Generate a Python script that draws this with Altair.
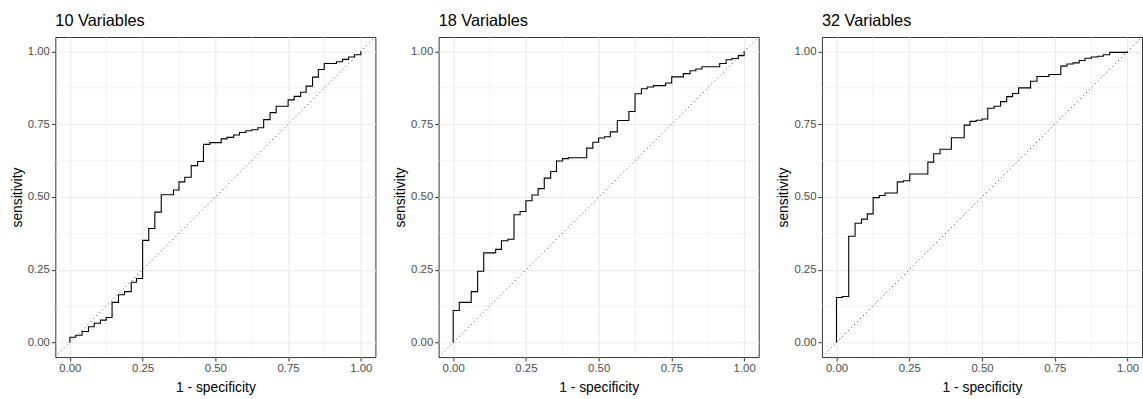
import altair as alt
import pandas as pd

panel_titles = ["10 Variables", "18 Variables", "32 Variables"]

fpr_10 = [0, 0, 0.020, 0.042, 0.064, 0.084, 0.105, 0.125, 0.145, 0.167, 0.188, 0.211,
          0.229, 0.25, 0.271, 0.292, 0.314, 0.356, 0.375, 0.395, 0.417, 0.439, 0.459,
          0.481, 0.52, 0.54, 0.563, 0.583, 0.605, 0.625, 0.646, 0.666, 0.688, 0.709,
          0.75, 0.771, 0.793, 0.812, 0.834, 0.854, 0.874, 0.916, 0.937, 0.958, 0.978, 1.0]
tpr_10 = [0, 0.018, 0.025, 0.038, 0.054, 0.066, 0.077, 0.086, 0.138, 0.164, 0.175, 0.207,
          0.22, 0.351, 0.392, 0.448, 0.508, 0.524, 0.552, 0.568, 0.608, 0.622, 0.681,
          0.687, 0.70, 0.705, 0.713, 0.722, 0.728, 0.731, 0.738, 0.766, 0.79, 0.812,
          0.834, 0.846, 0.86, 0.881, 0.912, 0.938, 0.959, 0.965, 0.973, 0.981, 0.989, 1.0]

fpr_18 = [0, 0, 0.021, 0.062, 0.084, 0.105, 0.146, 0.166, 0.188, 0.209, 0.230, 0.25,
          0.271, 0.292, 0.313, 0.335, 0.355, 0.376, 0.396, 0.459, 0.48, 0.5, 0.52, 0.54,
          0.564, 0.604, 0.625, 0.647, 0.667, 0.688, 0.730, 0.751, 0.791, 0.814, 0.834,
          0.855, 0.916, 0.938, 0.958, 0.98, 1.0]
tpr_18 = [0, 0.110, 0.138, 0.175, 0.245, 0.308, 0.32, 0.35, 0.355, 0.439, 0.45, 0.487,
          0.507, 0.529, 0.565, 0.588, 0.624, 0.632, 0.635, 0.668, 0.688, 0.703, 0.707,
          0.724, 0.763, 0.794, 0.855, 0.872, 0.878, 0.883, 0.892, 0.913, 0.924, 0.934,
          0.94, 0.948, 0.959, 0.972, 0.976, 0.986, 1.0]

fpr_32 = [0, 0, 0.02, 0.042, 0.064, 0.086, 0.106, 0.126, 0.147, 0.167, 0.209, 0.230,
          0.252, 0.314, 0.334, 0.356, 0.395, 0.439, 0.459, 0.48, 0.5, 0.52, 0.542, 0.564,
          0.585, 0.605, 0.626, 0.667, 0.689, 0.73, 0.771, 0.792, 0.813, 0.834, 0.854,
          0.876, 0.897, 0.917, 0.939, 1.0]
tpr_32 = [0, 0.155, 0.158, 0.365, 0.41, 0.424, 0.442, 0.498, 0.505, 0.514, 0.552, 0.556,
          0.579, 0.62, 0.649, 0.664, 0.704, 0.747, 0.760, 0.764, 0.768, 0.805, 0.812,
          0.828, 0.845, 0.856, 0.875, 0.898, 0.914, 0.921, 0.95, 0.957, 0.961, 0.969,
          0.977, 0.981, 0.984, 0.989, 0.997, 1.0]

axis_breaks = [0, 0.25, 0.5, 0.75, 1.0]
minor_breaks = [0.125, 0.375, 0.625, 0.875]
diag_ends = [-0.05, 1.05]

FONT = "Liberation Sans"
X_TITLE = "1 - specificity"
Y_TITLE = "sensitivity"


def panel(title, fpr, tpr):
    df = pd.DataFrame({"fpr": fpr, "tpr": tpr, "idx": list(range(len(fpr)))})
    xs = alt.Scale(domain=diag_ends, nice=False, zero=False)
    ys = alt.Scale(domain=diag_ends, nice=False, zero=False)
    minor = pd.DataFrame({"v": minor_breaks})
    diag = pd.DataFrame({"x": [diag_ends[0]], "y": [diag_ends[0]],
                         "x2": [diag_ends[1]], "y2": [diag_ends[1]]})

    vgrid = alt.Chart(minor).mark_rule(color="#EBEBEB", strokeWidth=0.6).encode(
        x=alt.X("v:Q", scale=xs, title=X_TITLE)
    )
    hgrid = alt.Chart(minor).mark_rule(color="#EBEBEB", strokeWidth=0.6).encode(
        y=alt.Y("v:Q", scale=ys, title=Y_TITLE)
    )
    dline = alt.Chart(diag).mark_rule(color="#333333", strokeWidth=1,
                                      strokeDash=[1, 3.2]).encode(
        x=alt.X("x:Q", scale=xs, title=X_TITLE),
        y=alt.Y("y:Q", scale=ys, title=Y_TITLE),
        x2="x2:Q",
        y2="y2:Q",
    )
    step = alt.Chart(df).mark_line(interpolate="step-after", color="black",
                                   strokeWidth=1.1).encode(
        x=alt.X("fpr:Q", scale=xs, title=X_TITLE,
                axis=alt.Axis(values=axis_breaks, format=".2f", titlePadding=6)),
        y=alt.Y("tpr:Q", scale=ys, title=Y_TITLE,
                axis=alt.Axis(values=axis_breaks, format=".2f")),
        order="idx:Q",
    )
    return alt.layer(vgrid, hgrid, dline, step).properties(
        width=324, height=324,
        title=alt.TitleParams(title, anchor="start", frame="group", fontSize=16.5,
                              fontWeight="normal", font=FONT, color="black",
                              offset=7),
    )


chart = alt.hconcat(
    panel(panel_titles[0], fpr_10, tpr_10),
    panel(panel_titles[1], fpr_18, tpr_18),
    panel(panel_titles[2], fpr_32, tpr_32),
    spacing=17,
).properties(
    padding={"left": 10, "top": 10, "right": 0, "bottom": 2},
    background="white",
).configure_view(
    stroke="#333333", strokeWidth=1
).configure_axis(
    domain=False,
    grid=True,
    gridColor="#EBEBEB",
    gridWidth=1.1,
    tickColor="#333333",
    tickSize=4,
    labelColor="#4D4D4D",
    labelFontSize=11.5,
    labelFont=FONT,
    labelPadding=2,
    titleFont=FONT,
    titleFontSize=14,
    titleFontWeight="normal",
    titleColor="black",
    titlePadding=3,
)

chart.save("out.html", embed_options={"renderer": "svg", "actions": False})
